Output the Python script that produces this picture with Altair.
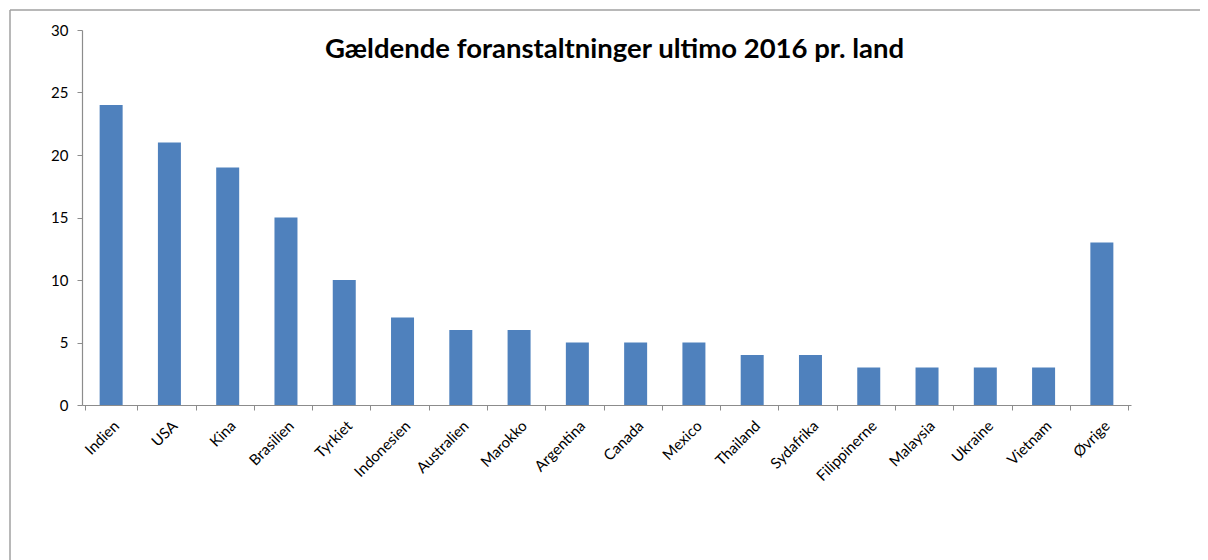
import altair as alt
import pandas as pd

countries = ["Indien", "USA", "Kina", "Brasilien", "Tyrkiet", "Indonesien", "Australien",
             "Marokko", "Argentina", "Canada", "Mexico", "Thailand", "Sydafrika",
             "Filippinerne", "Malaysia", "Ukraine", "Vietnam", "Øvrige"]
values = [24, 21, 19, 15, 10, 7, 6, 6, 5, 5, 5, 4, 4, 3, 3, 3, 3, 13]

df = pd.DataFrame({"land": countries, "antal": values})

FONT = "Lato"

bars = alt.Chart(df).mark_bar(size=23, color="#4F81BD").encode(
    x=alt.X("land:N", sort=countries, title=None,
            axis=alt.Axis(labelAngle=-45, labelFontSize=15, labelColor="#000000",
                          labelFont=FONT, tickBand="extent", tickSize=5,
                          tickColor="#8c8c8c", domainColor="#8c8c8c", labelPadding=8,
                          tickWidth=1, domainWidth=1.2)),
    y=alt.Y("antal:Q", title=None,
            scale=alt.Scale(domain=[0, 30], nice=False),
            axis=alt.Axis(values=[0, 5, 10, 15, 20, 25, 30], grid=False,
                          labelFontSize=15, labelColor="#000000", labelFont=FONT,
                          tickSize=5, tickColor="#8c8c8c", domainColor="#8c8c8c",
                          labelPadding=9, tickWidth=1, domainWidth=1.2)),
)

frame_data = alt.Data(values=[{}])
top_edge = alt.Chart(frame_data).mark_rule(
    stroke="#a0a0a0", strokeWidth=1.5, clip=False
).encode(x=alt.value(-72), x2=alt.value(1118), y=alt.value(-20))
left_edge = alt.Chart(frame_data).mark_rule(
    stroke="#a0a0a0", strokeWidth=1.5, clip=False
).encode(x=alt.value(-72), y=alt.value(-20), y2=alt.value(530))

chart = alt.layer(top_edge, left_edge, bars).properties(
    width=1049, height=375,
    title=alt.TitleParams("Gældende foranstaltninger ultimo 2016 pr. land",
                          fontSize=27.5, font=FONT, fontWeight="bold", color="#000000",
                          anchor="middle", offset=-24, dx=8, dy=30),
    autosize=alt.AutoSizeParams(type="none"),
    padding={"left": 74, "top": 22, "right": 69, "bottom": 155},
).configure_view(stroke=None)

chart.save("out.html", embed_options={"renderer": "svg", "actions": False})
